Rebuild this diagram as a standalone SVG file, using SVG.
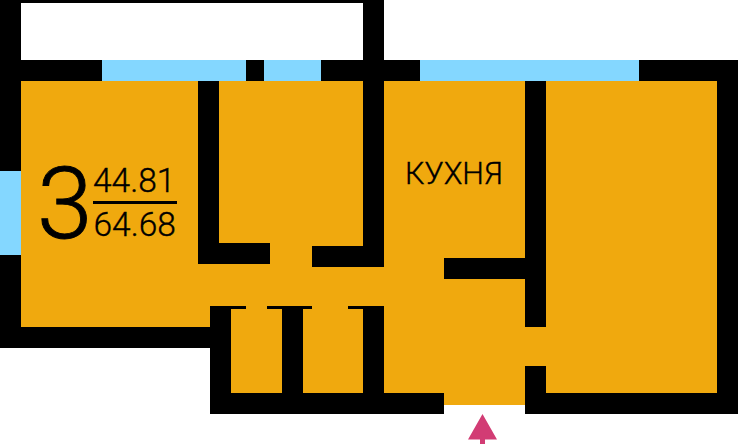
<svg xmlns="http://www.w3.org/2000/svg" width="738" height="445" viewBox="0 0 738 445">
<style>
.w{fill:#000}.g{fill:#84d7ff}.f{fill:#f0a90e}
text{font-family:Roboto,"Liberation Sans",sans-serif;fill:#000;font-weight:300;stroke:#000;stroke-width:.35px}
.n{font-size:33.5px}
</style>
<rect width="738" height="445" fill="#fff"/>
<g id="floor">
<path class="f" d="M21 81H717V393H525V405H444V393H210V327H21Z"/>
</g>
<g id="walls">
<rect class="w" x="0" y="0" width="384" height="3"/>
<rect class="w" x="0" y="0" width="21" height="171"/>
<rect class="w" x="0" y="255" width="21" height="93"/>
<rect class="w" x="0" y="327" width="210" height="21"/>
<rect class="w" x="0" y="60" width="738" height="21"/>
<rect class="w" x="363" y="0" width="21" height="267"/>
<rect class="w" x="717" y="60" width="21" height="354"/>
<rect class="w" x="198" y="81" width="21" height="183"/>
<rect class="w" x="198" y="243" width="72" height="21"/>
<rect class="w" x="312" y="246" width="72" height="21"/>
<rect class="w" x="444" y="258" width="102" height="21"/>
<rect class="w" x="525" y="81" width="21" height="246"/>
<rect class="w" x="525" y="366" width="21" height="48"/>
<rect class="w" x="525" y="393" width="213" height="21"/>
<rect class="w" x="210" y="393" width="234" height="21"/>
<rect class="w" x="210" y="306" width="21" height="108"/>
<rect class="w" x="282" y="306" width="21" height="108"/>
<rect class="w" x="363" y="306" width="21" height="108"/>
<rect class="w" x="210" y="306" width="36" height="3"/>
<rect class="w" x="267" y="306" width="45" height="3"/>
<rect class="w" x="348" y="306" width="36" height="3"/>
</g>
<g id="windows">
<rect class="g" x="102" y="60" width="144" height="21"/>
<rect class="g" x="264" y="60" width="57" height="21"/>
<rect class="g" x="420" y="60" width="219" height="21"/>
<rect class="g" x="0" y="171" width="21" height="84"/>
</g>
<g id="entrance">
<path fill="#d23c74" d="M482.500 414L497 439.500H485V444H480V439.500H468Z"/>
</g>
<g id="label">
<text x="37" y="237.500" font-size="100" style="stroke-width:.9px">3</text>
<text class="n" x="93" y="192">44.81</text>
<rect class="w" x="93" y="201" width="84" height="3"/>
<text class="n" x="93.500" y="235.500">64.68</text>
<text x="405" y="183.500" font-size="30.500">КУХНЯ</text>
</g>
</svg>
